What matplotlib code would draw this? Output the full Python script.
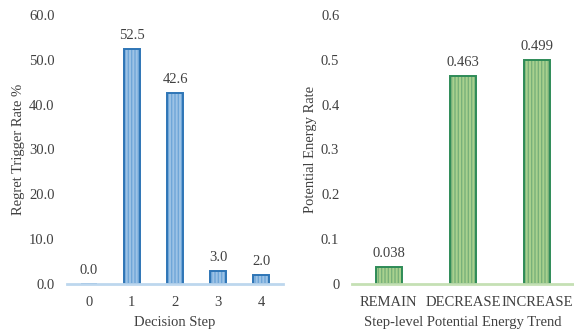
import matplotlib
matplotlib.use("Agg")
import matplotlib.pyplot as plt
import numpy as np

plt.rcParams["font.family"] = ["Liberation Serif", "DejaVu Serif"]
plt.rcParams["font.size"] = 10.5

# Left panel data
steps = ["0", "1", "2", "3", "4"]
regret_rate = [0.0, 52.5, 42.6, 3.0, 2.0]
regret_labels = ["0.0", "52.5", "42.6", "3.0", "2.0"]

# Right panel data
trends = ["REMAIN", "DECREASE", "INCREASE"]
energy_rate = [0.038, 0.463, 0.499]
energy_labels = ["0.038", "0.463", "0.499"]

FS = 10.5
TXT = "#404040"


def striped_bars(ax, x, h, width, fill, stripe, edge):
    # hatched fill first, then the outline on top
    ax.bar(x, h, width, color=fill, edgecolor=stripe, linewidth=0, hatch="|||||")
    ax.bar(x, h, width, facecolor="none", edgecolor=edge, linewidth=1.4)


def style(ax, axis_color):
    for s in ["top", "right", "left"]:
        ax.spines[s].set_visible(False)
    ax.spines["bottom"].set_color(axis_color)
    ax.spines["bottom"].set_linewidth(2)
    ax.spines["bottom"].set_zorder(5)
    ax.tick_params(length=0, colors=TXT, labelsize=FS)
    ax.tick_params(axis="x", pad=9)
    ax.tick_params(axis="y", pad=9)


fig = plt.figure(figsize=(5.74, 3.31), dpi=100)

ax1 = fig.add_axes([0.117, 0.142, 0.376, 0.813])
x1 = np.arange(len(steps))
striped_bars(ax1, x1, regret_rate, 0.37, "#9dc3e6", "#6fa6d8", "#2e75b6")
for xi, v, t in zip(x1, regret_rate, regret_labels):
    ax1.annotate(t, (xi, v), xytext=(0, 5), textcoords="offset points",
                 ha="center", va="bottom", fontsize=FS, color=TXT)
ax1.set_xlim(-0.5, 4.5)
ax1.set_ylim(0, 60)
ax1.set_yticks(np.arange(0, 61, 10))
ax1.set_yticklabels([f"{t:.1f}" for t in np.arange(0, 61, 10)])
ax1.set_xticks(x1)
ax1.set_xticklabels(steps)
ax1.set_xlabel("Decision Step", fontsize=FS, color=TXT, labelpad=5)
ax1.set_ylabel("Regret Trigger Rate %", fontsize=FS, color=TXT, labelpad=3)
style(ax1, "#bdd7ee")

ax2 = fig.add_axes([0.613, 0.142, 0.387, 0.813])
x2 = np.arange(len(trends))
striped_bars(ax2, x2, energy_rate, 0.35, "#a9d18e", "#78b07a", "#2e8b57")
for xi, v, t in zip(x2, energy_rate, energy_labels):
    ax2.annotate(t, (xi, v), xytext=(0, 5), textcoords="offset points",
                 ha="center", va="bottom", fontsize=FS, color=TXT)
ax2.set_xlim(-0.5, 2.5)
ax2.set_ylim(0, 0.6)
ax2.set_yticks(np.arange(0, 0.61, 0.1))
ax2.set_yticklabels(["0", "0.1", "0.2", "0.3", "0.4", "0.5", "0.6"])
ax2.set_xticks(x2)
ax2.set_xticklabels(trends)
ax2.set_xlabel("Step-level Potential Energy Trend", fontsize=FS, color=TXT, labelpad=5)
ax2.set_ylabel("Potential Energy Rate", fontsize=FS, color=TXT, labelpad=3)
style(ax2, "#c5e0b4")

fig.savefig("out.png", dpi=100)
